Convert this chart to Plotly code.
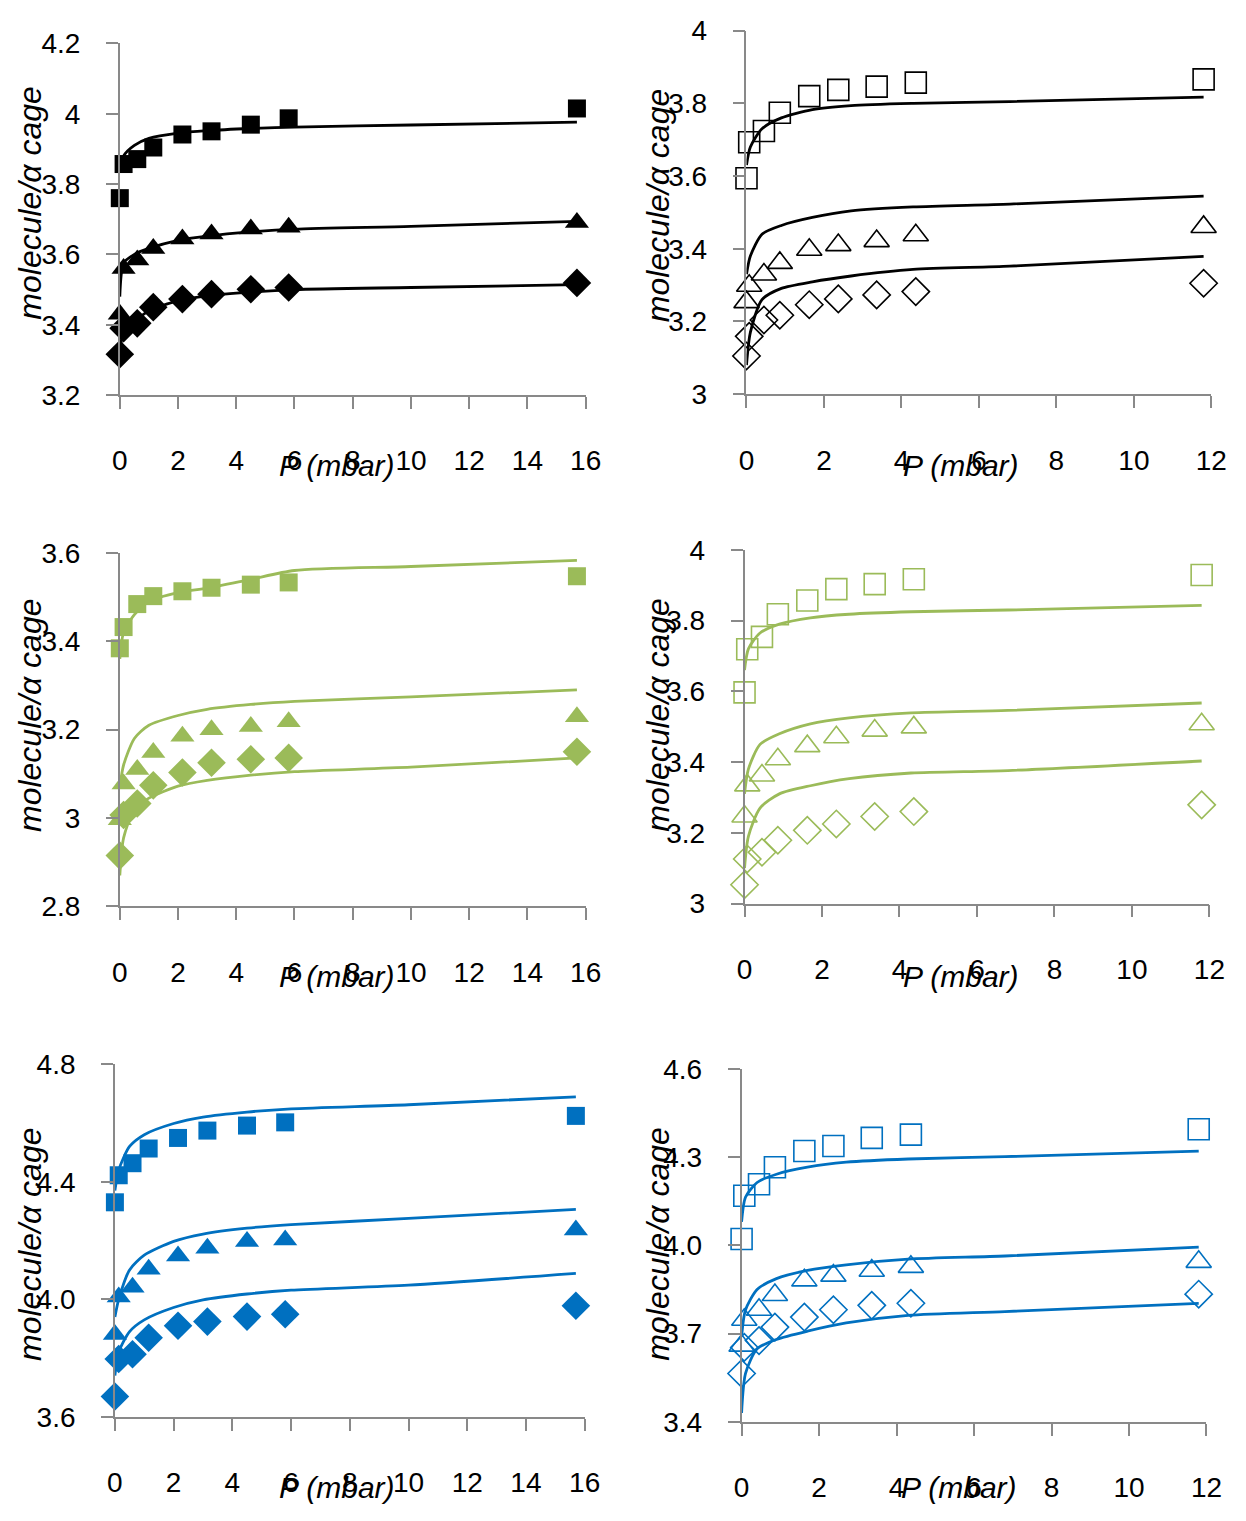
import plotly.graph_objects as go

W, H = 1246, 1521

# ---------------- data ----------------
# marker pressures (mbar)
p_left = [0.0, 0.13, 0.6, 1.15, 2.15, 3.15, 4.5, 5.8, 15.7]
p_right = [0.0, 0.07, 0.45, 0.86, 1.62, 2.37, 3.36, 4.37, 11.8]
# fitted-line pressures
pl_left = [0.0, 0.13, 0.5, 1.0, 2.0, 3.0, 4.5, 6.0, 10.0, 15.7]
pl_right = [0.0, 0.1, 0.4, 0.9, 1.7, 2.7, 4.3, 6.8, 11.8]

# Panel 1 (black, filled)
p1_sq = [3.76, 3.857, 3.871, 3.904, 3.941, 3.95, 3.969, 3.987, 4.015]
p1_tr = [3.43, 3.56, 3.584, 3.617, 3.644, 3.658, 3.672, 3.677, 3.691]
p1_di = [3.316, 3.39, 3.404, 3.45, 3.473, 3.487, 3.501, 3.506, 3.519]
p1_fit_sq = [3.84, 3.88, 3.91, 3.93, 3.945, 3.952, 3.958, 3.962, 3.968, 3.976]
p1_fit_tr = [3.48, 3.575, 3.60, 3.617, 3.64, 3.652, 3.664, 3.672, 3.68, 3.694]
p1_fit_di = [3.29, 3.385, 3.41, 3.44, 3.468, 3.482, 3.493, 3.50, 3.506, 3.514]

# Panel 2 (black, open)
p2_sq = [3.594, 3.693, 3.724, 3.774, 3.82, 3.837, 3.846, 3.857, 3.866]
p2_tr = [3.253, 3.298, 3.329, 3.361, 3.397, 3.41, 3.421, 3.437, 3.46]
p2_di = [3.105, 3.159, 3.204, 3.217, 3.246, 3.262, 3.273, 3.282, 3.305]
p2_fit_sq = [3.63, 3.68, 3.73, 3.76, 3.783, 3.794, 3.80, 3.805, 3.817]
p2_fit_tr = [3.33, 3.38, 3.44, 3.464, 3.486, 3.504, 3.515, 3.523, 3.545]
p2_fit_di = [3.08, 3.17, 3.26, 3.291, 3.309, 3.325, 3.343, 3.352, 3.379]

# Panel 3 (green, filled)
p3_sq = [3.384, 3.432, 3.484, 3.502, 3.513, 3.521, 3.528, 3.533, 3.547]
p3_tr = [2.996, 3.077, 3.11, 3.148, 3.185, 3.20, 3.207, 3.218, 3.229]
p3_di = [2.915, 3.007, 3.033, 3.074, 3.103, 3.125, 3.133, 3.136, 3.15]
p3_fit_sq = [3.36, 3.42, 3.46, 3.49, 3.51, 3.52, 3.54, 3.56, 3.569, 3.583]
p3_fit_tr = [3.07, 3.12, 3.18, 3.21, 3.232, 3.246, 3.257, 3.264, 3.274, 3.29]
p3_fit_di = [2.87, 2.955, 3.02, 3.045, 3.072, 3.085, 3.097, 3.105, 3.115, 3.136]

# Panel 4 (green, open)
p4_sq = [3.597, 3.719, 3.754, 3.818, 3.857, 3.889, 3.903, 3.917, 3.929]
p4_tr = [3.246, 3.334, 3.362, 3.408, 3.445, 3.47, 3.489, 3.498, 3.507]
p4_di = [3.053, 3.126, 3.145, 3.179, 3.207, 3.225, 3.246, 3.26, 3.279]
p4_fit_sq = [3.66, 3.72, 3.765, 3.79, 3.808, 3.818, 3.825, 3.83, 3.843]
p4_fit_tr = [3.31, 3.38, 3.45, 3.48, 3.508, 3.525, 3.539, 3.546, 3.567]
p4_fit_di = [3.10, 3.19, 3.27, 3.31, 3.333, 3.353, 3.369, 3.376, 3.403]

# Panel 5 (blue, filled)
p5_sq = [4.33, 4.422, 4.463, 4.513, 4.549, 4.574, 4.591, 4.602, 4.624]
p5_tr = [3.88, 4.008, 4.041, 4.102, 4.147, 4.174, 4.197, 4.202, 4.236]
p5_di = [3.669, 3.797, 3.813, 3.869, 3.91, 3.924, 3.941, 3.949, 3.978]
p5_fit_sq = [4.37, 4.44, 4.52, 4.56, 4.598, 4.62, 4.637, 4.648, 4.662, 4.689]
p5_fit_tr = [3.94, 4.00, 4.10, 4.15, 4.197, 4.222, 4.242, 4.254, 4.275, 4.306]
p5_fit_di = [3.74, 3.82, 3.89, 3.93, 3.972, 3.998, 4.018, 4.031, 4.048, 4.088]

# Panel 6 (blue, open)
p6_sq = [4.022, 4.169, 4.208, 4.266, 4.321, 4.338, 4.366, 4.377, 4.395]
p6_tr = [3.659, 3.747, 3.781, 3.831, 3.881, 3.897, 3.914, 3.927, 3.944]
p6_di = [3.564, 3.653, 3.676, 3.722, 3.756, 3.781, 3.796, 3.803, 3.834]
p6_fit_sq = [4.08, 4.164, 4.214, 4.242, 4.266, 4.283, 4.294, 4.302, 4.321]
p6_fit_tr = [3.69, 3.78, 3.85, 3.887, 3.915, 3.934, 3.953, 3.964, 3.994]
p6_fit_di = [3.43, 3.564, 3.648, 3.68, 3.708, 3.736, 3.762, 3.775, 3.803]

x_title = "P (mbar)"
y_title = "molecule/α cage"

BLACK = "#000000"
GREEN = "#9BBB59"
BLUE = "#0070C0"
AXIS = "#898989"
FONT = "Liberation Sans, Arial, sans-serif"

panels = [
    dict(box=(114, 589, 29, 388), xmax=16, yr=(3.2, 4.2), dt=0.2, tf="", color=BLACK, filled=True,
         px=p_left, pl=pl_left, sq=p1_sq, tr=p1_tr, di=p1_di, fs=p1_fit_sq, ft=p1_fit_tr, fd=p1_fit_di,
         xt=(335, 460), yt=(23, 192)),
    dict(box=(753, 1227, 16, 387), xmax=12, yr=(3.0, 4.0), dt=0.2, tf="", color=BLACK, filled=False,
         px=p_right, pl=pl_right, sq=p2_sq, tr=p2_tr, di=p2_di, fs=p2_fit_sq, ft=p2_fit_tr, fd=p2_fit_di,
         xt=(972, 460), yt=(663, 195)),
    dict(box=(114, 589, 549, 910), xmax=16, yr=(2.8, 3.6), dt=0.2, tf="", color=GREEN, filled=True,
         px=p_left, pl=pl_left, sq=p3_sq, tr=p3_tr, di=p3_di, fs=p3_fit_sq, ft=p3_fit_tr, fd=p3_fit_di,
         xt=(335, 981), yt=(23, 715)),
    dict(box=(751, 1225, 546, 907), xmax=12, yr=(3.0, 4.0), dt=0.2, tf="", color=GREEN, filled=False,
         px=p_right, pl=pl_right, sq=p4_sq, tr=p4_tr, di=p4_di, fs=p4_fit_sq, ft=p4_fit_tr, fd=p4_fit_di,
         xt=(972, 981), yt=(663, 715)),
    dict(box=(109, 588, 1071, 1431), xmax=16, yr=(3.6, 4.8), dt=0.4, tf=".1f", color=BLUE, filled=True,
         px=p_left, pl=pl_left, sq=p5_sq, tr=p5_tr, di=p5_di, fs=p5_fit_sq, ft=p5_fit_tr, fd=p5_fit_di,
         xt=(335, 1503), yt=(23, 1255)),
    dict(box=(748, 1222, 1076, 1436), xmax=12, yr=(3.4, 4.6), dt=0.3, tf=".1f", color=BLUE, filled=False,
         px=p_right, pl=pl_right, sq=p6_sq, tr=p6_tr, di=p6_di, fs=p6_fit_sq, ft=p6_fit_tr, fd=p6_fit_di,
         xt=(970, 1503), yt=(663, 1255)),
]

fig = go.Figure()
layout = dict(
    width=W, height=H, margin=dict(l=0, r=0, t=0, b=0),
    paper_bgcolor="white", plot_bgcolor="white", showlegend=False,
    font=dict(family=FONT, size=28, color="black"),
)
annotations = []

for i, p in enumerate(panels, start=1):
    xa = "x" if i == 1 else f"x{i}"
    ya = "y" if i == 1 else f"y{i}"
    x0, x1, yt_, yb_ = p["box"]
    c = p["color"]
    lw = 2.8
    for fit in (p["fs"], p["ft"], p["fd"]):
        fig.add_trace(go.Scatter(x=p["pl"], y=fit, mode="lines", xaxis=xa, yaxis=ya,
                                 line=dict(color=c, width=lw, shape="spline", smoothing=0.7),
                                 cliponaxis=False, hoverinfo="skip"))
    if p["filled"]:
        syms = [("square", p["sq"], 18), ("triangle-up", p["tr"], 21), ("diamond", p["di"], 22)]
    else:
        syms = [("square-open", p["sq"], 21), ("triangle-up-open", p["tr"], 22), ("diamond-open", p["di"], 21)]
    for sym, ys, sz in syms:
        fig.add_trace(go.Scatter(x=p["px"], y=ys, mode="markers", xaxis=xa, yaxis=ya,
                                 marker=dict(symbol=sym, size=sz, color=c,
                                             line=dict(color=c, width=1.6 if not p["filled"] else 0)),
                                 cliponaxis=False))
    xkey = "xaxis" if i == 1 else f"xaxis{i}"
    ykey = "yaxis" if i == 1 else f"yaxis{i}"
    layout[xkey] = dict(
        domain=[x0 / W, x1 / W], anchor=ya, range=[0, p["xmax"]], dtick=2, tick0=0,
        showgrid=False, zeroline=False, showline=True, linecolor=AXIS, linewidth=1.6,
        ticks="outside", ticklen=12, tickwidth=1.6, tickcolor=AXIS,
        ticklabelstandoff=28, tickfont=dict(size=28, color="black", family=FONT),
    )
    layout[ykey] = dict(
        domain=[1 - yb_ / H, 1 - yt_ / H], anchor=xa, range=list(p["yr"]), dtick=p["dt"], tick0=p["yr"][0],
        tickformat=p["tf"],
        showgrid=False, zeroline=False, showline=True, linecolor=AXIS, linewidth=1.6,
        ticks="outside", ticklen=12, tickwidth=1.6, tickcolor=AXIS,
        ticklabelstandoff=20, tickfont=dict(size=28, color="black", family=FONT),
    )
    annotations.append(dict(text=f"<i>{x_title}</i>", xref="paper", yref="paper",
                            x=p["xt"][0] / W, y=1 - p["xt"][1] / H, xanchor="center", yanchor="middle",
                            showarrow=False, font=dict(size=30, color="black", family=FONT)))
    annotations.append(dict(text=f"<i>{y_title}</i>", xref="paper", yref="paper",
                            x=p["yt"][0] / W, y=1 - p["yt"][1] / H, xanchor="center", yanchor="middle",
                            textangle=-90, showarrow=False, font=dict(size=32, color="black", family=FONT)))

layout["annotations"] = annotations
fig.update_layout(**layout)
fig.write_html("out.html", config={"displayModeBar": False},
               post_script="document.body.style.margin='0';document.body.style.padding='0';")
